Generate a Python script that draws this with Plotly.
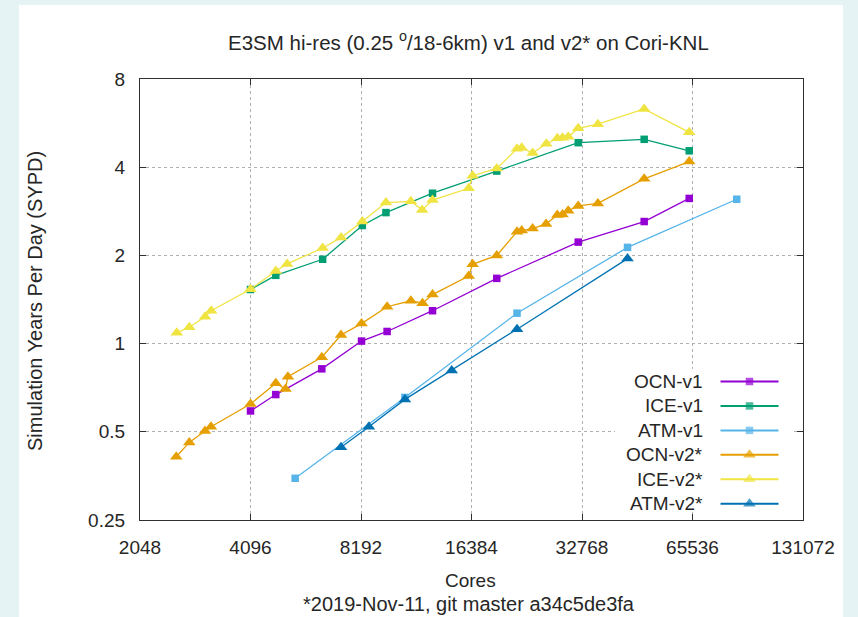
import math
import plotly.graph_objects as go

# ---------------- data ----------------
x_ticks = [2048, 4096, 8192, 16384, 32768, 65536, 131072]
x_tick_labels = ["2048", "4096", "8192", "16384", "32768", "65536", "131072"]
y_ticks = [0.25, 0.5, 1, 2, 4, 8]
y_tick_labels = ["0.25", "0.5", "1", "2", "4", "8"]

ocn_v1_cores = [4096, 4800, 6406, 8220, 9650, 12830, 19200, 32000, 48400, 64200]
ocn_v1_sypd = [0.589, 0.67, 0.82, 1.02, 1.10, 1.295, 1.67, 2.22, 2.61, 3.13]

ice_v1_cores = [4096, 4800, 6440, 8260, 9580, 12830, 19200, 32000, 48400, 64200]
ice_v1_sypd = [1.53, 1.71, 1.94, 2.53, 2.80, 3.26, 3.88, 4.85, 4.98, 4.55]

atm_v1_cores = [5420, 10790, 21800, 43600, 86500]
atm_v1_sypd = [0.347, 0.655, 1.27, 2.13, 3.11]

ocn_v2_cores = [2571, 2790, 3079, 3197, 4096, 4800, 5100, 5180, 6406, 7226, 8220,
                9650, 11200, 12050, 12830, 16100, 16500, 19200, 21800, 22450,
                24040, 26160, 28070, 29000, 30050, 32000, 36200, 48400, 64200]
ocn_v2_sypd = [0.411, 0.46, 0.503, 0.52, 0.622, 0.732, 0.70, 0.771, 0.898, 1.07, 1.17,
               1.336, 1.40, 1.373, 1.47, 1.70, 1.865, 2.0, 2.41, 2.43,
               2.47, 2.56, 2.75, 2.76, 2.84, 2.95, 3.01, 3.65, 4.18]

ice_v2_cores = [2580, 2790, 3080, 3200, 4096, 4800, 5155, 6440, 7230, 8260, 9580,
                11200, 12020, 12830, 16100, 16500, 19200, 21800, 22450, 24040,
                26200, 28070, 29000, 30050, 32000, 36200, 48400, 64200]
ice_v2_sypd = [1.09, 1.137, 1.235, 1.295, 1.532, 1.77, 1.87, 2.12, 2.30, 2.61, 3.03,
               3.06, 2.86, 3.09, 3.39, 3.74, 3.96, 4.62, 4.66, 4.47,
               4.81, 5.02, 5.04, 5.08, 5.43, 5.61, 6.32, 5.26]

atm_v2_cores = [7226, 8610, 10790, 14470, 21800, 43600]
atm_v2_sypd = [0.443, 0.52, 0.645, 0.81, 1.12, 1.95]

series_names = ["OCN-v1", "ICE-v1", "ATM-v1", "OCN-v2*", "ICE-v2*", "ATM-v2*"]
series_x = [ocn_v1_cores, ice_v1_cores, atm_v1_cores, ocn_v2_cores, ice_v2_cores, atm_v2_cores]
series_y = [ocn_v1_sypd, ice_v1_sypd, atm_v1_sypd, ocn_v2_sypd, ice_v2_sypd, atm_v2_sypd]

# ---------------- styles ----------------
colors = ["#9400d3", "#009e73", "#56b4e9", "#e69f00", "#f0e442", "#0072b2"]
symbols = ["square", "square", "square", "triangle-up", "triangle-up", "triangle-up"]
sizes = [7.5, 7.5, 7.5, 11, 11, 11]

FONT = "Liberation Sans, Arial, sans-serif"
TXT = "#262626"
AX = "#303030"

W, H = 858, 617
L, R, T, B = 140, 55, 79, 97
pw, ph = W - L - R, H - T - B


def px_x(p):
    return (p - L) / pw


def px_y(p):
    return (H - B - p) / ph


# key geometry (pixels): opaque box, sample line span, first row and row pitch
KEY_X0, KEY_X1, KEY_Y0, KEY_Y1 = 615, 791, 369, 512
SAMPLE_X0, SAMPLE_X1 = 720.5, 778.5
ROW0, ROW_PITCH = 381.5, 24.45

k_xunit = SAMPLE_X1 - SAMPLE_X0
k_x_range = [(KEY_X0 - SAMPLE_X0) / k_xunit, (KEY_X1 - SAMPLE_X0) / k_xunit]
k_y_range = [(KEY_Y1 - ROW0) / ROW_PITCH, (KEY_Y0 - ROW0) / ROW_PITCH]

fig = go.Figure()

for name, xs, ys, c, s, sz in zip(series_names, series_x, series_y, colors, symbols, sizes):
    fig.add_trace(go.Scatter(
        x=xs, y=ys, mode="lines+markers", name=name, showlegend=False,
        line=dict(color=c, width=1.3),
        marker=dict(color=c, symbol=s, size=sz, line=dict(width=0)),
        xaxis="x", yaxis="y",
    ))

# gnuplot-style key (text left, sample right) on a helper axis pair
for i, (name, c, s, sz) in enumerate(zip(series_names, colors, symbols, sizes)):
    fig.add_trace(go.Scatter(
        x=[0, 0.5, 1], y=[i, i, i], mode="lines+markers", showlegend=False,
        line=dict(color=c, width=2), cliponaxis=False, hoverinfo="skip",
        marker=dict(color=c, symbol=s, size=[0, sz, 0], line=dict(width=0)),
        xaxis="x2", yaxis="y2",
    ))
    fig.add_annotation(
        x=0, y=i, xref="x2", yref="y2", text=name, showarrow=False,
        xanchor="right", yanchor="middle", xshift=-16,
        font=dict(family=FONT, size=19, color=TXT),
    )

axis_common = dict(
    showline=True, linecolor=AX, linewidth=1.3, mirror="ticks",
    ticks="inside", ticklen=6, tickwidth=1.2, tickcolor=AX,
    showgrid=True, gridcolor="#b0b0b0", griddash="dot", gridwidth=1,
    zeroline=False, tickfont=dict(family=FONT, size=19, color=TXT),
)

fig.update_layout(
    width=W, height=H,
    margin=dict(l=L, r=R, t=T, b=B, autoexpand=False),
    paper_bgcolor="#e6f3f5", plot_bgcolor="white",
    showlegend=False,
    xaxis=dict(type="log", range=[math.log10(x_ticks[0]), math.log10(x_ticks[-1])],
               tickvals=x_ticks, ticktext=x_tick_labels, ticklabelstandoff=10,
               **axis_common),
    yaxis=dict(type="log", range=[math.log10(y_ticks[0]), math.log10(y_ticks[-1])],
               tickvals=y_ticks, ticktext=y_tick_labels, ticklabelstandoff=10,
               **axis_common),
    xaxis2=dict(domain=[px_x(KEY_X0), px_x(KEY_X1)], range=k_x_range, visible=False,
                anchor="y2", fixedrange=True, showgrid=False),
    yaxis2=dict(domain=[px_y(KEY_Y1), px_y(KEY_Y0)], range=k_y_range, visible=False,
                anchor="x2", fixedrange=True, showgrid=False),
    shapes=[
        # white page panel
        dict(type="rect", xref="paper", yref="paper", layer="below",
             x0=px_x(19), x1=px_x(843), y0=px_y(H + 5), y1=px_y(5),
             fillcolor="white", line=dict(width=0)),
        # opaque key box hiding the grid (drawn in the key subplot, below its traces)
        dict(type="rect", xref="x2", yref="y2", layer="below",
             x0=k_x_range[0], x1=k_x_range[1], y0=k_y_range[0], y1=k_y_range[1],
             fillcolor="white", line=dict(width=0)),
    ],
    annotations=list(fig.layout.annotations) + [
        dict(text="E3SM hi-res (0.25 <sup>o</sup>/18-6km) v1 and v2* on Cori-KNL",
             x=px_x(468), y=px_y(41), xref="paper", yref="paper", showarrow=False,
             xanchor="center", yanchor="middle",
             font=dict(family=FONT, size=20.5, color=TXT)),
        dict(text="Cores", x=px_x(470), y=px_y(580), xref="paper", yref="paper",
             showarrow=False, xanchor="center", yanchor="middle",
             font=dict(family=FONT, size=19, color=TXT)),
        dict(text="*2019-Nov-11, git master a34c5de3fa", x=px_x(469), y=px_y(604),
             xref="paper", yref="paper", showarrow=False, xanchor="center",
             yanchor="middle", font=dict(family=FONT, size=20, color=TXT)),
        dict(text="Simulation Years Per Day (SYPD)", x=px_x(35), y=px_y(301),
             xref="paper", yref="paper", showarrow=False, textangle=-90,
             xanchor="center", yanchor="middle",
             font=dict(family=FONT, size=20, color=TXT)),
    ],
)

fig.write_html("out.html")
